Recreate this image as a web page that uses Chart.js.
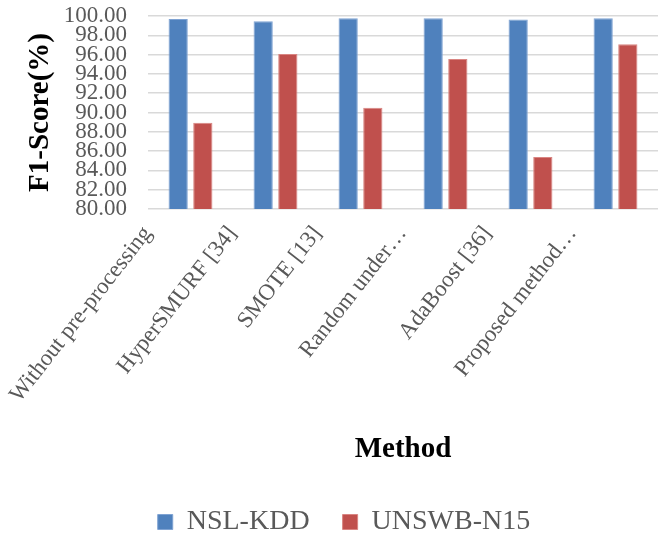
<!DOCTYPE html>
<html>
<head>
<meta charset="utf-8">
<script src="https://cdn.jsdelivr.net/npm/chart.js@4.4.0/dist/chart.umd.min.js"></script>
<style>
  html, body { margin: 0; padding: 0; background: #fff; overflow: hidden; }
  #wrap { width: 658px; height: 541px; }
</style>
</head>
<body>
<div id="wrap"><canvas id="bar_chart" width="658" height="541"></canvas></div>
<script>
// chart data
let methods = ['Without pre-processing', 'HyperSMURF [34]', 'SMOTE [13]', 'Random under\u2026', 'AdaBoost [36]', 'Proposed method\u2026'];
let nslKdd = [99.70, 99.45, 99.76, 99.76, 99.65, 99.76];
let unswbN15 = [88.94, 96.06, 90.50, 95.54, 85.40, 97.07];
let yTicks = [80, 82, 84, 86, 88, 90, 92, 94, 96, 98, 100];

const serif = "'Liberation Serif', 'Times New Roman', serif";
Chart.defaults.font.family = serif;

var ctx = document.getElementById('bar_chart').getContext('2d');
var bar_chart = new Chart(ctx, {
    type: 'bar',
    data: {
        labels: methods,
        datasets: [
            {
                label: 'NSL-KDD',
                data: nslKdd,
                backgroundColor: '#4F81BD',
                borderColor: '#7FA3D3',
                borderWidth: 1,
                barPercentage: 0.78,
                categoryPercentage: 0.58
            },
            {
                label: 'UNSWB-N15',
                data: unswbN15,
                backgroundColor: '#C0504D',
                borderColor: '#D98582',
                borderWidth: 1,
                barPercentage: 0.78,
                categoryPercentage: 0.58
            }
        ]
    },
    options: {
        responsive: false,
        animation: false,
        layout: { padding: { top: 0, left: 22, right: -8, bottom: -5 } },
        plugins: {
            tooltip: { enabled: false },
            legend: {
                position: 'bottom',
                labels: {
                    color: '#595959',
                    font: { family: serif, size: 28 },
                    boxWidth: 15,
                    boxHeight: 15,
                    padding: 33
                }
            }
        },
        scales: {
            x: {
                afterFit: s => { s.height = 266; },
                grid: { display: false },
                border: { display: false },
                ticks: {
                    color: '#595959',
                    font: { family: serif, size: 23 },
                    maxRotation: 52,
                    minRotation: 52,
                    autoSkip: false,
                    padding: 4,
                    labelOffset: -43
                },
                title: {
                    display: true,
                    text: 'Method',
                    color: '#000',
                    font: { family: serif, size: 29, weight: 'bold' },
                    padding: { top: 0, bottom: 8 }
                }
            },
            y: {
                min: 80,
                max: 100,
                afterFit: s => { s.width = 126; s.paddingTop = 16; },
                afterBuildTicks: s => { s.ticks = yTicks.map(v => ({ value: v })); },
                border: { display: false },
                grid: { color: '#d9d9d9', lineWidth: 1.5, drawTicks: false },
                ticks: {
                    autoSkip: false,
                    color: '#595959',
                    font: { family: serif, size: 23 },
                    padding: 21,
                    callback: v => v.toFixed(2)
                },
                title: {
                    display: true,
                    text: 'F1-Score(%)',
                    color: '#000',
                    font: { family: serif, size: 29, weight: 'bold' },
                    padding: { top: 1, bottom: 0 }
                }
            }
        }
    }
});
</script>
</body>
</html>
